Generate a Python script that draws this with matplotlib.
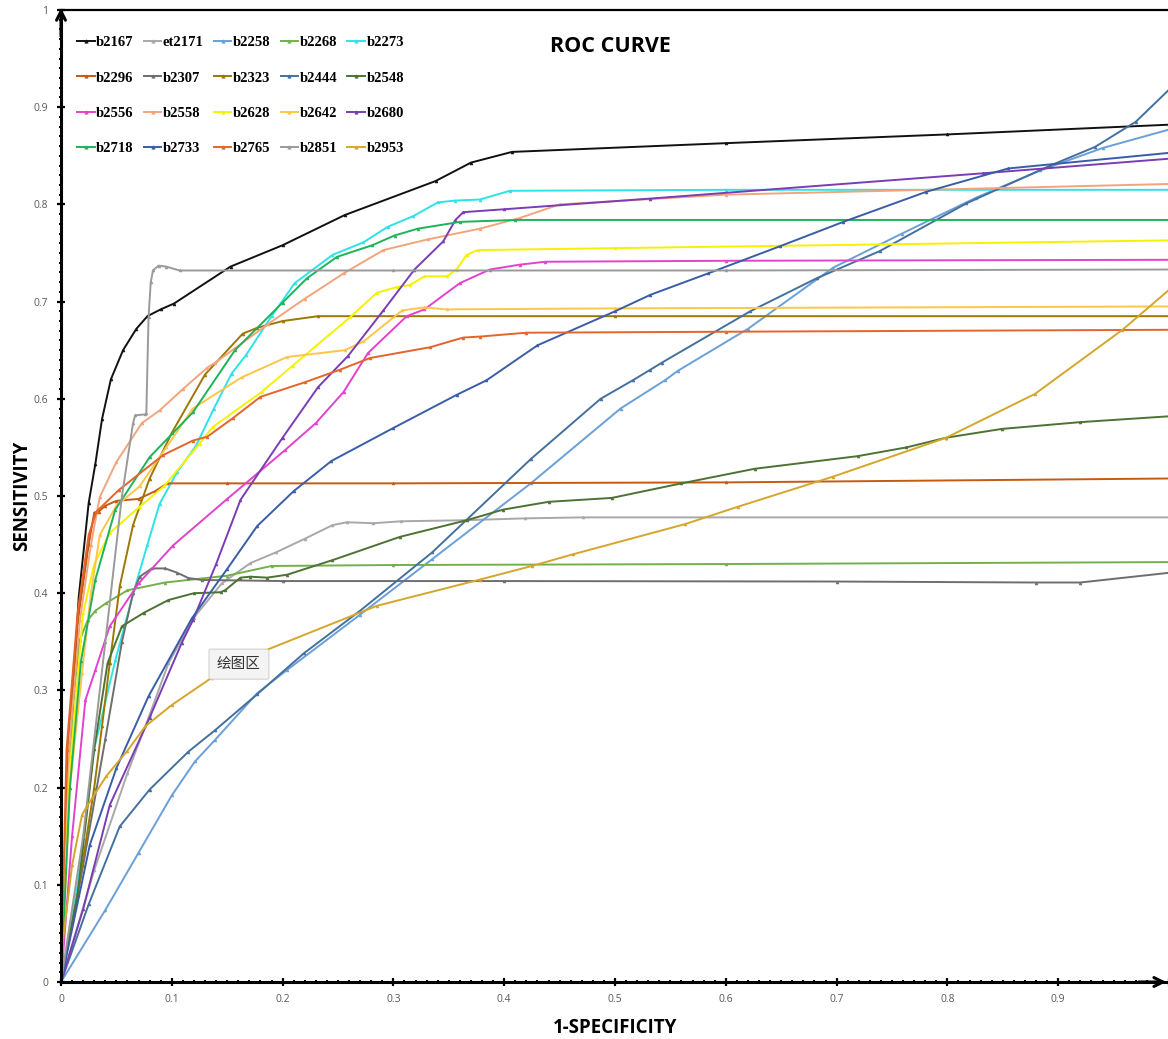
import matplotlib
matplotlib.use("Agg")
import matplotlib.pyplot as plt
from matplotlib.ticker import MultipleLocator, FixedLocator

# ROC data (x = 1-specificity, y = sensitivity)
x_b2167 = [0, 0.003, 0.008, 0.016, 0.025, 0.031, 0.037, 0.045, 0.056, 0.068, 0.078, 0.09, 0.102, 0.153, 0.200, 0.256, 0.338, 0.37, 0.407, 0.6, 0.8, 1.0]
y_b2167 = [0, 0.10, 0.232, 0.396, 0.493, 0.533, 0.579, 0.62, 0.650, 0.672, 0.685, 0.692, 0.698, 0.736, 0.758, 0.789, 0.824, 0.843, 0.854, 0.863, 0.872, 0.882]

x_et2171 = [0, 0.03, 0.06, 0.08, 0.097, 0.12, 0.145, 0.171, 0.194, 0.22, 0.245, 0.258, 0.282, 0.307, 0.362, 0.419, 0.471, 1.0]
y_et2171 = [0, 0.115, 0.215, 0.275, 0.328, 0.375, 0.41, 0.431, 0.442, 0.456, 0.470, 0.473, 0.472, 0.474, 0.475, 0.477, 0.478, 0.478]

x_b2258 = [0, 0.04, 0.07, 0.100, 0.121, 0.139, 0.177, 0.204, 0.27, 0.335, 0.424, 0.505, 0.545, 0.557, 0.620, 0.697, 0.759, 0.826, 0.884, 0.94, 1.0]
y_b2258 = [0, 0.074, 0.133, 0.192, 0.227, 0.249, 0.297, 0.321, 0.378, 0.435, 0.513, 0.590, 0.619, 0.629, 0.672, 0.735, 0.770, 0.807, 0.835, 0.858, 0.877]

x_b2268 = [0, 0.005, 0.012, 0.017, 0.024, 0.031, 0.041, 0.06, 0.094, 0.15, 0.19, 0.3, 0.6, 1.0]
y_b2268 = [0, 0.18, 0.30, 0.352, 0.372, 0.382, 0.390, 0.403, 0.411, 0.418, 0.428, 0.429, 0.430, 0.432]

x_b2273 = [0, 0.015, 0.03, 0.049, 0.067, 0.078, 0.089, 0.105, 0.122, 0.138, 0.154, 0.167, 0.19, 0.211, 0.245, 0.273, 0.295, 0.318, 0.340, 0.356, 0.378, 0.405, 0.6, 1.0]
y_b2273 = [0, 0.10, 0.24, 0.331, 0.407, 0.45, 0.492, 0.525, 0.552, 0.59, 0.626, 0.645, 0.685, 0.719, 0.748, 0.761, 0.777, 0.788, 0.802, 0.804, 0.805, 0.814, 0.815, 0.815]

x_b2296 = [0, 0.006, 0.015, 0.025, 0.030, 0.034, 0.04, 0.05, 0.07, 0.085, 0.096, 0.15, 0.3, 0.6, 1.0]
y_b2296 = [0, 0.24, 0.37, 0.45, 0.483, 0.484, 0.49, 0.495, 0.497, 0.505, 0.513, 0.513, 0.513, 0.514, 0.518]

x_b2307 = [0, 0.02, 0.04, 0.055, 0.065, 0.071, 0.082, 0.094, 0.105, 0.115, 0.127, 0.2, 0.4, 0.7, 0.88, 0.92, 1.0]
y_b2307 = [0, 0.12, 0.25, 0.35, 0.40, 0.417, 0.4255, 0.4255, 0.421, 0.4156, 0.4136, 0.4125, 0.4125, 0.412, 0.411, 0.411, 0.421]

x_b2323 = [0, 0.015, 0.03, 0.037, 0.044, 0.053, 0.065, 0.08, 0.1, 0.13, 0.164, 0.177, 0.2, 0.232, 0.3, 0.5, 1.0]
y_b2323 = [0, 0.09, 0.2, 0.263, 0.328, 0.407, 0.47, 0.518, 0.565, 0.625, 0.667, 0.673, 0.68, 0.685, 0.685, 0.685, 0.685]

x_b2444 = [0, 0.025, 0.053, 0.080, 0.115, 0.139, 0.177, 0.219, 0.27, 0.335, 0.424, 0.487, 0.516, 0.532, 0.542, 0.622, 0.682, 0.739, 0.817, 0.893, 0.933, 0.97, 1.0]
y_b2444 = [0, 0.08, 0.160, 0.198, 0.237, 0.259, 0.296, 0.338, 0.382, 0.442, 0.538, 0.600, 0.619, 0.630, 0.637, 0.690, 0.724, 0.752, 0.801, 0.840, 0.859, 0.885, 0.918]

x_b2548 = [0, 0.015, 0.03, 0.042, 0.055, 0.075, 0.097, 0.12, 0.144, 0.148, 0.162, 0.171, 0.186, 0.204, 0.245, 0.306, 0.366, 0.399, 0.44, 0.497, 0.56, 0.626, 0.719, 0.763, 0.799, 0.849, 0.92, 1.0]
y_b2548 = [0, 0.09, 0.24, 0.328, 0.366, 0.38, 0.393, 0.40, 0.401, 0.403, 0.416, 0.417, 0.416, 0.419, 0.434, 0.458, 0.475, 0.486, 0.494, 0.498, 0.513, 0.528, 0.541, 0.550, 0.560, 0.569, 0.576, 0.582]

x_b2556 = [0, 0.01, 0.022, 0.031, 0.044, 0.07, 0.101, 0.15, 0.202, 0.23, 0.255, 0.277, 0.312, 0.328, 0.36, 0.387, 0.414, 0.437, 0.6, 1.0]
y_b2556 = [0, 0.15, 0.29, 0.321, 0.366, 0.41, 0.449, 0.497, 0.547, 0.575, 0.607, 0.647, 0.685, 0.692, 0.719, 0.733, 0.738, 0.741, 0.742, 0.743]

x_b2558 = [0, 0.008, 0.017, 0.027, 0.035, 0.05, 0.073, 0.089, 0.11, 0.132, 0.139, 0.187, 0.22, 0.255, 0.291, 0.331, 0.378, 0.414, 0.45, 0.6, 1.0]
y_b2558 = [0, 0.25, 0.372, 0.45, 0.499, 0.535, 0.575, 0.588, 0.61, 0.632, 0.637, 0.677, 0.703, 0.729, 0.753, 0.764, 0.775, 0.786, 0.800, 0.810, 0.821]

x_b2628 = [0, 0.008, 0.02, 0.03, 0.044, 0.071, 0.093, 0.125, 0.137, 0.181, 0.209, 0.261, 0.285, 0.303, 0.315, 0.328, 0.348, 0.357, 0.366, 0.376, 0.5, 1.0]
y_b2628 = [0, 0.22, 0.38, 0.43, 0.462, 0.489, 0.51, 0.554, 0.571, 0.607, 0.634, 0.684, 0.709, 0.715, 0.717, 0.726, 0.726, 0.733, 0.748, 0.753, 0.755, 0.763]

x_b2642 = [0, 0.008, 0.019, 0.027, 0.035, 0.05, 0.071, 0.095, 0.119, 0.163, 0.204, 0.256, 0.273, 0.308, 0.328, 0.348, 0.5, 1.0]
y_b2642 = [0, 0.2, 0.318, 0.40, 0.46, 0.49, 0.51, 0.55, 0.59, 0.622, 0.643, 0.650, 0.659, 0.691, 0.694, 0.692, 0.693, 0.695]

x_b2680 = [0, 0.02, 0.044, 0.08, 0.109, 0.119, 0.14, 0.162, 0.2, 0.232, 0.259, 0.291, 0.319, 0.345, 0.356, 0.363, 0.4, 0.532, 0.832, 1.0]
y_b2680 = [0, 0.075, 0.182, 0.272, 0.349, 0.372, 0.43, 0.496, 0.56, 0.612, 0.644, 0.691, 0.733, 0.762, 0.784, 0.792, 0.795, 0.806, 0.832, 0.847]

x_b2718 = [0, 0.008, 0.018, 0.031, 0.049, 0.08, 0.119, 0.157, 0.2, 0.222, 0.249, 0.281, 0.301, 0.322, 0.36, 0.41, 1.0]
y_b2718 = [0, 0.2, 0.33, 0.414, 0.486, 0.54, 0.586, 0.65, 0.699, 0.724, 0.746, 0.758, 0.768, 0.775, 0.782, 0.784, 0.784]

x_b2733 = [0, 0.026, 0.05, 0.079, 0.118, 0.15, 0.177, 0.21, 0.244, 0.3, 0.357, 0.384, 0.43, 0.5, 0.532, 0.584, 0.649, 0.706, 0.781, 0.855, 1.0]
y_b2733 = [0, 0.141, 0.22, 0.294, 0.374, 0.425, 0.469, 0.505, 0.536, 0.57, 0.604, 0.619, 0.655, 0.69, 0.707, 0.729, 0.757, 0.782, 0.813, 0.837, 0.853]

x_b2765 = [0, 0.005, 0.015, 0.025, 0.032, 0.052, 0.092, 0.119, 0.132, 0.155, 0.180, 0.220, 0.252, 0.279, 0.333, 0.363, 0.378, 0.42, 0.6, 1.0]
y_b2765 = [0, 0.239, 0.38, 0.46, 0.484, 0.506, 0.542, 0.557, 0.561, 0.58, 0.602, 0.617, 0.630, 0.642, 0.653, 0.663, 0.664, 0.668, 0.669, 0.671]

x_b2851 = [0, 0.02, 0.04, 0.055, 0.065, 0.067, 0.076, 0.077, 0.079, 0.081, 0.083, 0.088, 0.095, 0.107, 0.3, 0.6, 1.0]
y_b2851 = [0, 0.15, 0.35, 0.50, 0.575, 0.583, 0.584, 0.585, 0.684, 0.72, 0.732, 0.737, 0.736, 0.732, 0.732, 0.732, 0.733]

x_b2953 = [0, 0.001, 0.01, 0.019, 0.023, 0.041, 0.06, 0.076, 0.1, 0.136, 0.182, 0.285, 0.378, 0.425, 0.462, 0.563, 0.611, 0.697, 0.799, 0.879, 0.958, 1.0]
y_b2953 = [0, 0.036, 0.12, 0.172, 0.180, 0.212, 0.238, 0.263, 0.285, 0.313, 0.340, 0.387, 0.414, 0.428, 0.440, 0.471, 0.489, 0.520, 0.560, 0.605, 0.671, 0.712]

labels = ['b2167', 'et2171', 'b2258', 'b2268', 'b2273',
          'b2296', 'b2307', 'b2323', 'b2444', 'b2548',
          'b2556', 'b2558', 'b2628', 'b2642', 'b2680',
          'b2718', 'b2733', 'b2765', 'b2851', 'b2953']
colors = ['#111111', '#a8a8a8', '#6a9fd8', '#74b04a', '#2ee3e8',
          '#c55a11', '#6e6e6e', '#9c7800', '#44709e', '#4d7233',
          '#e342cf', '#f4a47c', '#f5f200', '#ffc54a', '#7a3db3',
          '#1db35a', '#3a5da8', '#e2652a', '#9a9a9a', '#d4a62a']
series = [(x_b2167, y_b2167), (x_et2171, y_et2171), (x_b2258, y_b2258), (x_b2268, y_b2268), (x_b2273, y_b2273),
          (x_b2296, y_b2296), (x_b2307, y_b2307), (x_b2323, y_b2323), (x_b2444, y_b2444), (x_b2548, y_b2548),
          (x_b2556, y_b2556), (x_b2558, y_b2558), (x_b2628, y_b2628), (x_b2642, y_b2642), (x_b2680, y_b2680),
          (x_b2718, y_b2718), (x_b2733, y_b2733), (x_b2765, y_b2765), (x_b2851, y_b2851), (x_b2953, y_b2953)]

fig = plt.figure(figsize=(11.68, 10.39), dpi=100)
ax = fig.add_axes([61 / 1168, 57 / 1039, 1108 / 1168, 972 / 1039])

handles = []
for (xs, ys), lab, col in zip(series, labels, colors):
    h, = ax.plot(xs, ys, color=col, lw=1.4, marker='^', markersize=2.0,
                 markeredgewidth=0.5, label=lab)
    handles.append(h)

ax.set_xlim(0, 1)
ax.set_ylim(0, 1)

# axis look
ax.spines['right'].set_visible(False)
ax.spines['left'].set_linewidth(2.2)
ax.spines['bottom'].set_linewidth(2.2)
ax.spines['top'].set_linewidth(1.6)

ticks = [0, 0.1, 0.2, 0.3, 0.4, 0.5, 0.6, 0.7, 0.8, 0.9, 1.0]
tick_text = ['0', '0.1', '0.2', '0.3', '0.4', '0.5', '0.6', '0.7', '0.8', '0.9', '1']
ax.xaxis.set_major_locator(FixedLocator(ticks))
ax.yaxis.set_major_locator(FixedLocator(ticks))
ax.set_xticklabels(tick_text)
ax.set_yticklabels(tick_text)
ax.xaxis.set_minor_locator(MultipleLocator(0.01))
ax.yaxis.set_minor_locator(MultipleLocator(0.01))
ax.tick_params(which='major', direction='inout', length=6, width=1.6, colors='black',
               labelcolor='#595959', labelsize=7.5, pad=6)
ax.tick_params(which='minor', direction='inout', length=3.5, width=1.4, colors='black')
ax.tick_params(top=False, right=False, which='both')
for t in ax.get_xticklabels() + ax.get_yticklabels():
    t.set_fontfamily('Open Sans')

# arrow heads on the axes
ax.annotate('', xy=(0, 1.005), xytext=(0, 0.97), xycoords='axes fraction',
            arrowprops=dict(arrowstyle='->', lw=2.2, color='black', mutation_scale=16),
            annotation_clip=False)
ax.annotate('', xy=(1.0, 0), xytext=(0.97, 0), xycoords='axes fraction',
            arrowprops=dict(arrowstyle='->', lw=2.2, color='black', mutation_scale=16),
            annotation_clip=False)

ax.set_xlabel('1-SPECIFICITY', fontfamily='Open Sans', fontweight='bold', fontsize=13.5, labelpad=9)
ax.set_ylabel('SENSITIVITY', fontfamily='Open Sans', fontweight='bold', fontsize=13.5, labelpad=1.5)

ax.text(0.496, 0.962, 'ROC CURVE', transform=ax.transAxes, ha='center', va='center',
        fontfamily='Open Sans', fontweight='bold', fontsize=15.5)

# legend laid out row by row, 5 per row
order = [r * 5 + c for c in range(5) for r in range(4)]
ax.legend([handles[i] for i in order], [labels[i] for i in order],
          ncol=5, loc='upper left', bbox_to_anchor=(0.0145, 0.973), frameon=False,
          prop={'family': 'Liberation Serif', 'weight': 'bold', 'size': 10.5},
          handlelength=1.2, handletextpad=0.1, columnspacing=0.7, labelspacing=1.5,
          borderaxespad=0, borderpad=0, markerscale=1.2)

# the little tooltip box left on the plot area
ax.text(0.1606, 0.327, '绘图区', transform=ax.transAxes, ha='center', va='center',
        fontsize=10.5, color='#333333', family=['Noto Sans CJK SC', 'DejaVu Sans'],
        bbox=dict(boxstyle='round,pad=0.55,rounding_size=0.15', fc='#f4f4f4', ec='#d2d2d2', lw=0.8))

fig.savefig('out.png', dpi=100)
